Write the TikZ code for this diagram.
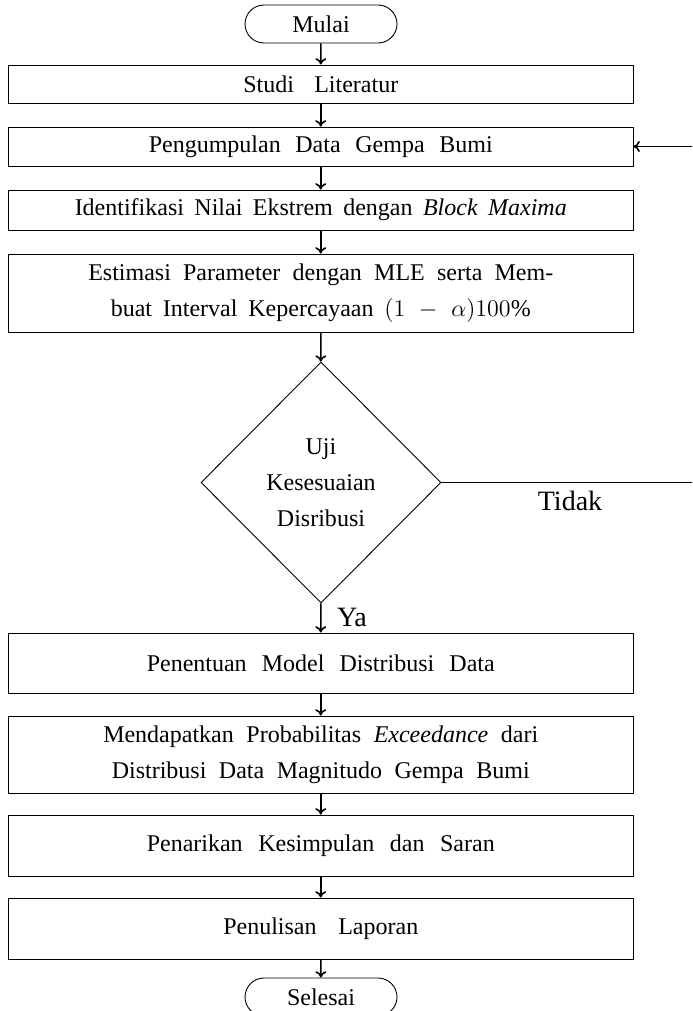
\documentclass[tikz,border=0pt]{standalone}
\usepackage{fontspec}
\setmainfont{Liberation Serif}
\usetikzlibrary{shapes.geometric,arrows.meta}
\newcommand\sline[2]{\makebox[#1pt][s]{#2}}
\begin{document}
\begin{tikzpicture}[x=0.5pt,y=-0.5pt,
  every node/.style={font=\fontsize{12}{18}\selectfont},
  stepbox/.style={draw, line width=0.45pt, minimum width=312.25pt, inner sep=0pt, align=center},
  term/.style={draw, line width=0.45pt, rounded corners=9.5pt, minimum width=76pt, minimum height=19pt, inner sep=0pt},
  decision/.style={draw, diamond, line width=0.45pt, minimum width=120pt, minimum height=120.5pt, inner sep=0pt, align=center},
  flow/.style={line width=0.8pt, -{To[length=3.2pt,width=5.5pt]}},
  lbl/.style={font=\fontsize{14}{16}\selectfont}]
\clip (0,0) rectangle (692,1011);
\node[term] (mulai) at (321,24) {Mulai};
\node[stepbox, minimum height=19pt] (studi) at (320.75,84) {\sline{77.5}{Studi Literatur}};
\node[stepbox, minimum height=19.5pt] (kumpul) at (320.75,146.5) {\sline{172}{Pengumpulan Data Gempa Bumi}};
\node[stepbox, minimum height=20pt] (ident) at (320.75,210) {\sline{246}{Identifikasi Nilai Ekstrem dengan \textit{Block Maxima}}};
\node[stepbox, minimum height=39pt] (estim) at (320.75,293) {\sline{232.5}{Estimasi Parameter dengan MLE serta Mem-}\\ \sline{210}{buat Interval Kepercayaan $(1\mskip3mu-\mskip3mu\alpha)100\%$}};
\node[decision] (uji) at (321,482.5) {Uji\\Kesesuaian\\Disribusi};
\node[stepbox, minimum height=30pt] (model) at (320.75,663) {\sline{174}{Penentuan Model Distribusi Data}};
\node[stepbox, minimum height=38.5pt] (prob) at (320.75,754.5) {\sline{217.5}{Mendapatkan Probabilitas \textit{Exceedance} dari}\\ \sline{209}{Distribusi Data Magnitudo Gempa Bumi}};
\node[stepbox, minimum height=30.5pt] (simpul) at (320.75,845.5) {\sline{174}{Penarikan Kesimpulan dan Saran}};
\node[stepbox, minimum height=30.5pt] (lapor) at (320.75,928.5) {\sline{97.5}{Penulisan Laporan}};
\node[term] (selesai) at (321,997) {Selesai};
\node[lbl] (ya) at (352,617) {Ya};
\node[lbl] (tidak) at (570,501) {Tidak};
\coordinate (bend) at (720,482.5);
\draw[flow] (mulai) -- (studi);
\draw[flow] (studi) -- (kumpul);
\draw[flow] (kumpul) -- (ident);
\draw[flow] (ident) -- (estim);
\draw[flow] (estim) -- (uji);
\draw[flow] (uji) -- (model);
\draw[flow] (model) -- (prob);
\draw[flow] (prob) -- (simpul);
\draw[flow] (simpul) -- (lapor);
\draw[flow] (lapor) -- (selesai);
\draw[flow] (uji.east) -- (bend) |- (kumpul.east);
\end{tikzpicture}
\end{document}
